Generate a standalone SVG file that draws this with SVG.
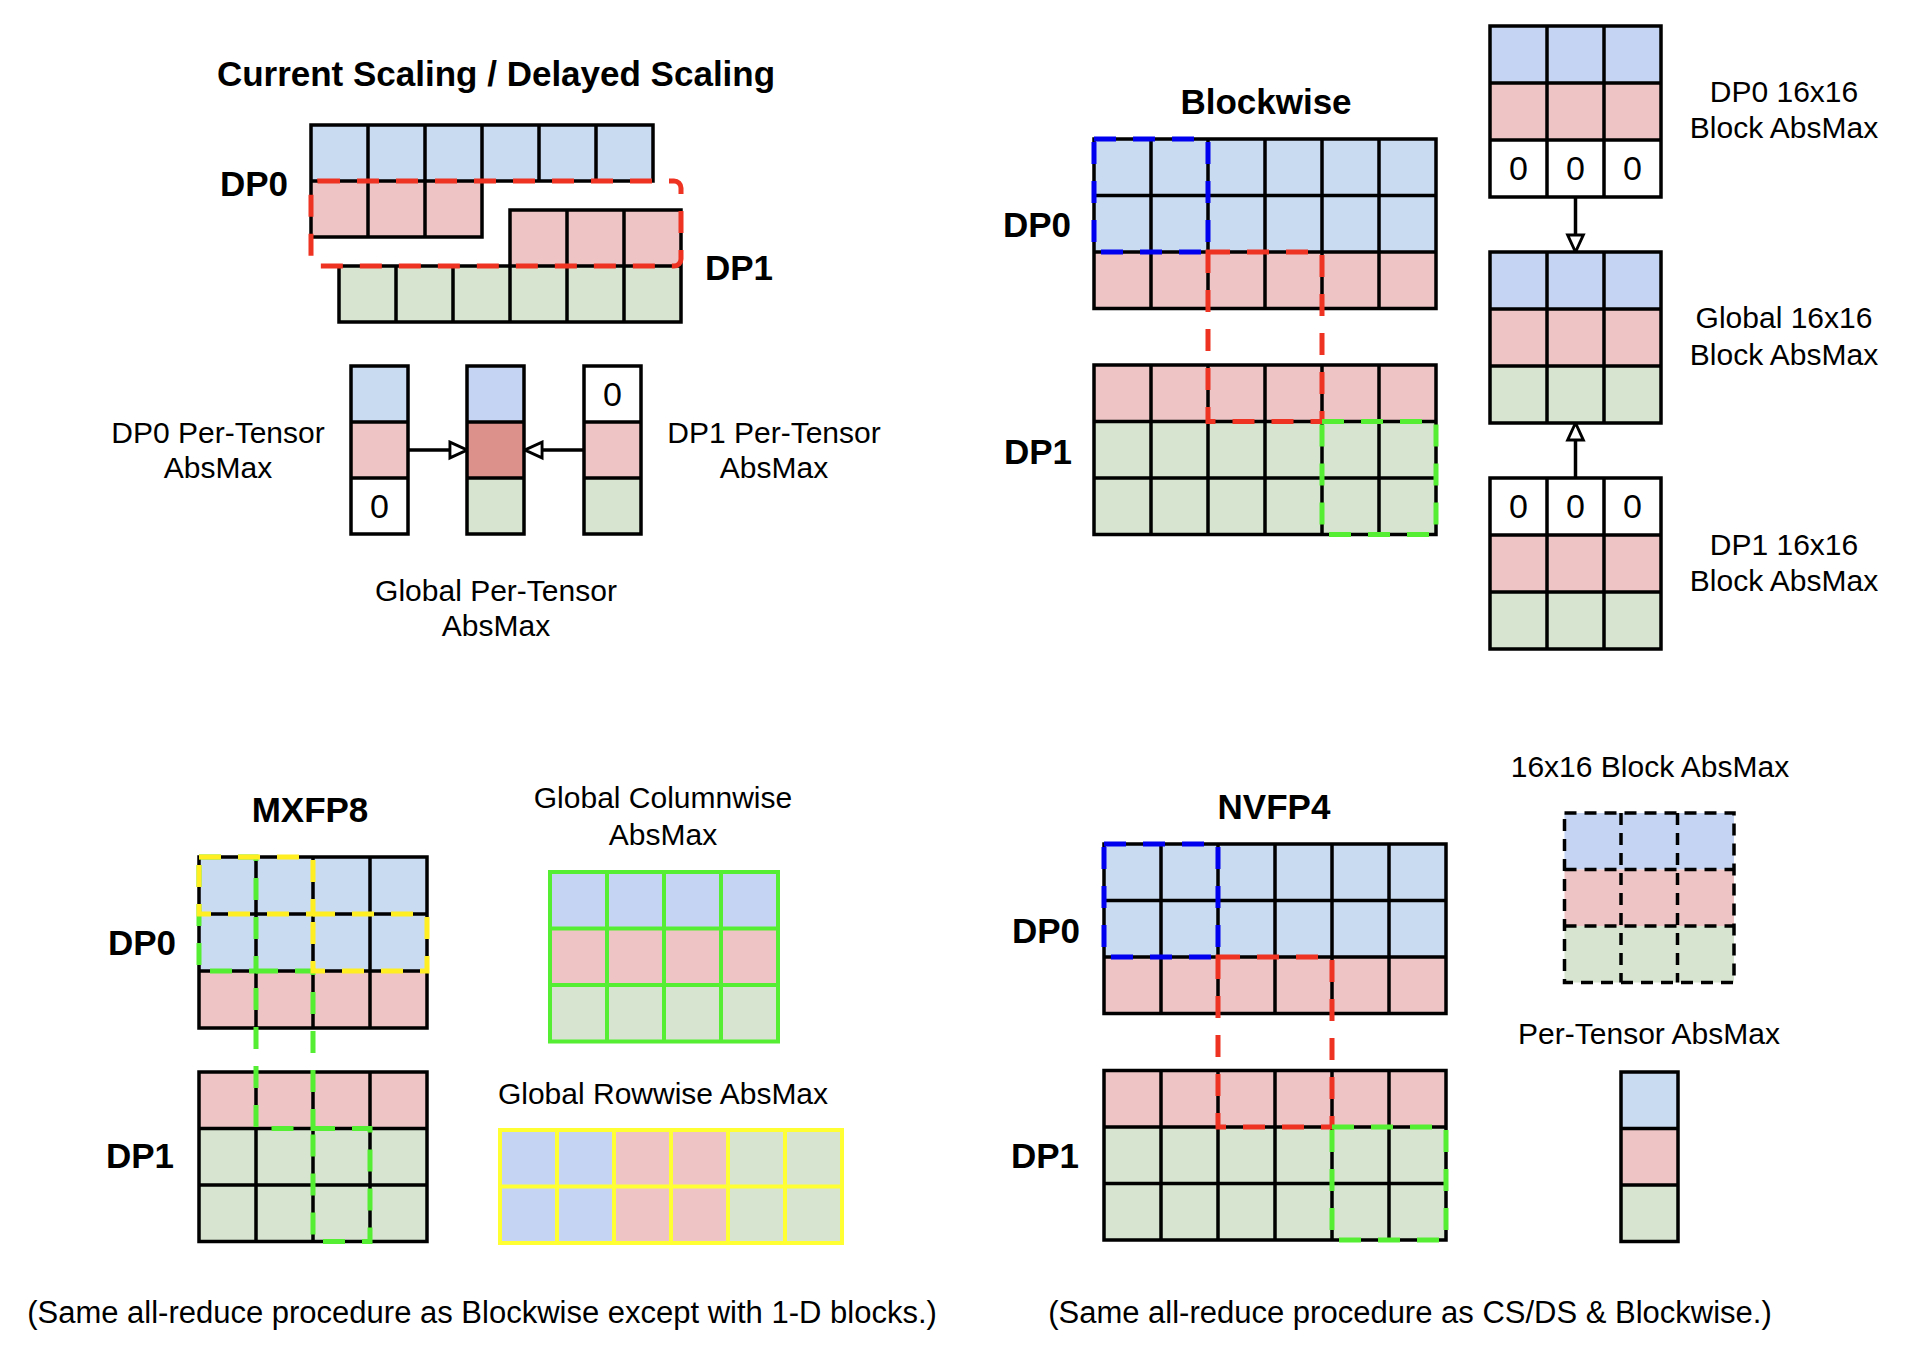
<svg xmlns="http://www.w3.org/2000/svg" width="1912" height="1350" viewBox="0 0 1912 1350">
<defs>
<style>
.b{fill:#c9dbf0}.b2{fill:#c4d4f2}.p{fill:#eec5c4}.g{fill:#d7e4cf}.w{fill:#fff}.r2{fill:#dc918b}
.ln{fill:none;stroke:#000;stroke-width:3.5;stroke-linejoin:miter}
.lg{fill:none;stroke:#55ee33;stroke-width:4}
.ly{fill:none;stroke:#ffff33;stroke-width:4}
.ld{fill:none;stroke:#000;stroke-width:3.5;stroke-dasharray:12 8}
.dr{fill:none;stroke:#ee3322;stroke-width:5;stroke-dasharray:22 17}
.db{fill:none;stroke:#0000ee;stroke-width:5;stroke-dasharray:22 17}
.dg{fill:none;stroke:#55ee33;stroke-width:5;stroke-dasharray:22 17}
.dy{fill:none;stroke:#ffee22;stroke-width:5;stroke-dasharray:22 17}
.t{font-family:"Liberation Sans",Arial,sans-serif;font-size:30px;fill:#000;text-anchor:middle}
.f{font-family:"Liberation Sans",Arial,sans-serif;font-size:31px;fill:#000;text-anchor:middle}
.h{font-family:"Liberation Sans",Arial,sans-serif;font-size:35px;font-weight:bold;fill:#000;text-anchor:middle}
.z{font-family:"Liberation Sans",Arial,sans-serif;font-size:34px;fill:#000;text-anchor:middle}
.arr{fill:none;stroke:#000;stroke-width:3.5}
</style>
<marker id="oa" viewBox="0 0 16 16" refX="15" refY="8" markerWidth="21" markerHeight="21" markerUnits="userSpaceOnUse" orient="auto">
<path d="M2,2 L15,8 L2,14 Z" fill="#fff" stroke="#000" stroke-width="2.2"/>
</marker>
</defs>
<rect width="1912" height="1350" fill="#fff"/>

<!-- ===== Current Scaling / Delayed Scaling ===== -->
<text class="h" x="496" y="86">Current Scaling / Delayed Scaling</text>
<text class="h" x="254" y="196">DP0</text>
<text class="h" x="739" y="280">DP1</text>
<g id="cs-dp0">
<rect class="b" x="311" y="125" width="342" height="56"/>
<rect class="p" x="311" y="181" width="171" height="56"/>
<path class="ln" d="M311 125h342v56h-342z M368 125v56 M425 125v56 M482 125v56 M539 125v56 M596 125v56 M311 181h171v56h-171z M368 181v56 M425 181v56"/>
</g>
<g id="cs-dp1">
<rect class="p" x="510" y="210" width="171" height="56"/>
<rect class="g" x="339" y="266" width="342" height="56"/>
<path class="ln" d="M510 210h171v56h-171z M567 210v56 M624 210v56 M339 266h342v56h-342z M396 266v56 M453 266v56 M510 266v56 M567 266v56 M624 266v56"/>
</g>
<g id="cs-outline"><rect class="dr" x="311" y="181" width="370" height="85" rx="7"/></g>

<g id="pt-dp0">
<rect class="b" x="351" y="366" width="57" height="56"/>
<rect class="p" x="351" y="422" width="57" height="56"/>
<rect class="w" x="351" y="478" width="57" height="56"/>
<path class="ln" d="M351 366h57v168h-57z M351 422h57 M351 478h57"/>
<text class="z" x="379.5" y="518">0</text>
</g>
<g id="pt-global">
<rect class="b2" x="467" y="366" width="57" height="56"/>
<rect class="r2" x="467" y="422" width="57" height="56"/>
<rect class="g" x="467" y="478" width="57" height="56"/>
<path class="ln" d="M467 366h57v168h-57z M467 422h57 M467 478h57"/>
</g>
<g id="pt-dp1">
<rect class="w" x="584" y="366" width="57" height="56"/>
<rect class="p" x="584" y="422" width="57" height="56"/>
<rect class="g" x="584" y="478" width="57" height="56"/>
<path class="ln" d="M584 366h57v168h-57z M584 422h57 M584 478h57"/>
<text class="z" x="612.5" y="406">0</text>
</g>
<text class="t" x="218" y="443">DP0 Per-Tensor</text>
<text class="t" x="218" y="478">AbsMax</text>
<text class="t" x="774" y="443">DP1 Per-Tensor</text>
<text class="t" x="774" y="478">AbsMax</text>
<text class="t" x="496" y="601">Global Per-Tensor</text>
<text class="t" x="496" y="636">AbsMax</text>

<!-- ===== Blockwise ===== -->
<text class="h" x="1266" y="114">Blockwise</text>
<text class="h" x="1037" y="237">DP0</text>
<text class="h" x="1038" y="464">DP1</text>
<g id="bw-dp0">
<rect class="b" x="1094" y="139" width="342" height="113"/>
<rect class="p" x="1094" y="252" width="342" height="56.5"/>
<path class="ln" d="M1094 139h342v169.5h-342z M1094 195.5h342 M1094 252h342 M1151 139v169.5 M1208 139v169.5 M1265 139v169.5 M1322 139v169.5 M1379 139v169.5"/>
</g>
<g id="bw-dp1">
<rect class="p" x="1094" y="365" width="342" height="56.5"/>
<rect class="g" x="1094" y="421.5" width="342" height="113"/>
<path class="ln" d="M1094 365h342v169.5h-342z M1094 421.5h342 M1094 478h342 M1151 365v169.5 M1208 365v169.5 M1265 365v169.5 M1322 365v169.5 M1379 365v169.5"/>
</g>

<g id="bw-dp0-block">
<rect class="b2" x="1490" y="26" width="171" height="57"/>
<rect class="p" x="1490" y="83" width="171" height="57"/>
<rect class="w" x="1490" y="140" width="171" height="57"/>
<path class="ln" d="M1490 26h171v171h-171z M1490 83h171 M1490 140h171 M1547 26v171 M1604 26v171"/>
<text class="z" x="1518.5" y="180">0</text><text class="z" x="1575.5" y="180">0</text><text class="z" x="1632.5" y="180">0</text>
</g>
<g id="bw-global-block">
<rect class="b2" x="1490" y="252" width="171" height="57"/>
<rect class="p" x="1490" y="309" width="171" height="57"/>
<rect class="g" x="1490" y="366" width="171" height="57"/>
<path class="ln" d="M1490 252h171v171h-171z M1490 309h171 M1490 366h171 M1547 252v171 M1604 252v171"/>
</g>
<g id="bw-dp1-block">
<rect class="w" x="1490" y="478" width="171" height="57"/>
<rect class="p" x="1490" y="535" width="171" height="57"/>
<rect class="g" x="1490" y="592" width="171" height="57"/>
<path class="ln" d="M1490 478h171v171h-171z M1490 535h171 M1490 592h171 M1547 478v171 M1604 478v171"/>
<text class="z" x="1518.5" y="518">0</text><text class="z" x="1575.5" y="518">0</text><text class="z" x="1632.5" y="518">0</text>
</g>
<text class="t" x="1784" y="102">DP0 16x16</text>
<text class="t" x="1784" y="138">Block AbsMax</text>
<text class="t" x="1784" y="328">Global 16x16</text>
<text class="t" x="1784" y="365">Block AbsMax</text>
<text class="t" x="1784" y="555">DP1 16x16</text>
<text class="t" x="1784" y="591">Block AbsMax</text>

<!-- ===== MXFP8 ===== -->
<text class="h" x="310" y="822">MXFP8</text>
<text class="h" x="142" y="955">DP0</text>
<text class="h" x="140" y="1168">DP1</text>
<g id="mx-dp0">
<rect class="b" x="199" y="857" width="228" height="114"/>
<rect class="p" x="199" y="971" width="228" height="57"/>
<path class="ln" d="M199 857h228v171h-228z M199 914h228 M199 971h228 M256 857v171 M313 857v171 M370 857v171"/>
</g>
<g id="mx-dp1">
<rect class="p" x="199" y="1072" width="228" height="56.5"/>
<rect class="g" x="199" y="1128.5" width="228" height="113"/>
<path class="ln" d="M199 1072h228v169.5h-228z M199 1128.5h228 M199 1185h228 M256 1072v169.5 M313 1072v169.5 M370 1072v169.5"/>
</g>
<text class="t" x="663" y="808">Global Columnwise</text>
<text class="t" x="663" y="845">AbsMax</text>
<g id="mx-col">
<rect class="b2" x="550" y="872" width="228" height="56.5"/>
<rect class="p" x="550" y="928.5" width="228" height="56.5"/>
<rect class="g" x="550" y="985" width="228" height="56.5"/>
<path class="lg" d="M550 872h228v169.5h-228z M550 928.5h228 M550 985h228 M607 872v169.5 M664 872v169.5 M721 872v169.5"/>
</g>
<text class="t" x="663" y="1104">Global Rowwise AbsMax</text>
<g id="mx-row">
<rect class="b2" x="500" y="1130" width="114" height="113"/>
<rect class="p" x="614" y="1130" width="114" height="113"/>
<rect class="g" x="728" y="1130" width="114" height="113"/>
<path class="ly" d="M500 1130h342v113h-342z M500 1186.5h342 M557 1130v113 M614 1130v113 M671 1130v113 M728 1130v113 M785 1130v113"/>
</g>

<!-- ===== NVFP4 ===== -->
<text class="h" x="1274" y="819">NVFP4</text>
<text class="h" x="1046" y="943">DP0</text>
<text class="h" x="1045" y="1168">DP1</text>
<g id="nv-dp0">
<rect class="b" x="1104" y="844" width="342" height="113"/>
<rect class="p" x="1104" y="957" width="342" height="56.5"/>
<path class="ln" d="M1104 844h342v169.5h-342z M1104 900.5h342 M1104 957h342 M1161 844v169.5 M1218 844v169.5 M1275 844v169.5 M1332 844v169.5 M1389 844v169.5"/>
</g>
<g id="nv-dp1">
<rect class="p" x="1104" y="1070.5" width="342" height="56.5"/>
<rect class="g" x="1104" y="1127" width="342" height="113"/>
<path class="ln" d="M1104 1070.5h342v169.5h-342z M1104 1127h342 M1104 1183.5h342 M1161 1070.5v169.5 M1218 1070.5v169.5 M1275 1070.5v169.5 M1332 1070.5v169.5 M1389 1070.5v169.5"/>
</g>
<text class="t" x="1650" y="777">16x16 Block AbsMax</text>
<g id="nv-block">
<rect class="b2" x="1564.5" y="813" width="169.5" height="56.5"/>
<rect class="p" x="1564.5" y="869.5" width="169.5" height="56.5"/>
<rect class="g" x="1564.5" y="926" width="169.5" height="56.5"/>
<path class="ld" d="M1564.5 813h169.5v169.5h-169.5z M1564.5 869.5h169.5 M1564.5 926h169.5 M1621 813v169.5 M1677.5 813v169.5"/>
</g>
<text class="t" x="1649" y="1044">Per-Tensor AbsMax</text>
<g id="nv-pt">
<rect class="b" x="1621" y="1072" width="57" height="56.5"/>
<rect class="p" x="1621" y="1128.5" width="57" height="56.5"/>
<rect class="g" x="1621" y="1185" width="57" height="56.5"/>
<path class="ln" d="M1621 1072h57v169.5h-57z M1621 1128.5h57 M1621 1185h57"/>
</g>

<!-- ===== connectors and block outlines ===== -->
<g id="connectors">
<line class="arr" x1="408" y1="450" x2="467" y2="450" marker-end="url(#oa)"/>
<line class="arr" x1="584" y1="450" x2="525" y2="450" marker-end="url(#oa)"/>
<line class="arr" x1="1575.5" y1="197" x2="1575.5" y2="252" marker-end="url(#oa)"/>
<line class="arr" x1="1575.5" y1="478" x2="1575.5" y2="423" marker-end="url(#oa)"/>
<rect class="db" x="1094" y="139" width="114" height="113"/>
<rect class="dr" x="1208" y="252" width="114" height="169.5"/>
<rect class="dg" x="1322" y="421.5" width="114" height="113"/>
<rect class="dg" x="199" y="857" width="57" height="114"/>
<rect class="dg" x="256" y="971" width="57" height="157.5"/>
<rect class="dg" x="313" y="1128.5" width="57" height="113"/>
<rect class="dy" x="199" y="857" width="114" height="57"/>
<rect class="dy" x="313" y="914" width="114" height="57"/>
<rect class="db" x="1104" y="844" width="114" height="113"/>
<rect class="dr" x="1218" y="957" width="114" height="170"/>
<rect class="dg" x="1332" y="1127" width="114" height="113"/>
</g>

<text class="f" x="482" y="1323">(Same all-reduce procedure as Blockwise except with 1-D blocks.)</text>
<text class="f" x="1410" y="1323">(Same all-reduce procedure as CS/DS &amp; Blockwise.)</text>
</svg>
